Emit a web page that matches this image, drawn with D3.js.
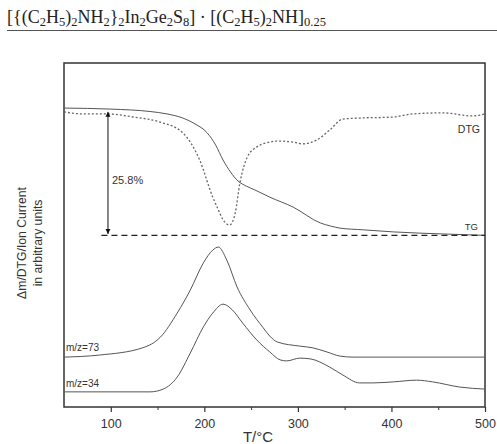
<!DOCTYPE html>
<html><head><meta charset="utf-8">
<script src="https://cdn.jsdelivr.net/npm/d3@7"></script>
<style>body{margin:0;background:#fff}svg{display:block}</style>
</head><body>
<svg id="c" width="497" height="444"></svg>
<script>
// Data (temperature °C, signal in arbitrary units)
const tgT  = [50,100,142,160,177,190,203,212,220,228,236,245,254,270,295,324,335,345,370,402,455,500];
const tgV  = [86.9,86.6,85.9,85.2,84.0,82.3,79.7,76.2,71.8,68.3,65.7,64.2,63.1,61.0,58.1,53.5,52.6,52.0,51.5,50.9,50.3,49.9];
const dtgT = [50,70,96,124,153,177,195,209,215,220,224,227,230,233,238,246,256,270,278,295,305,320,334,348,366,402,423,455,487,500];
const dtgV = [85.8,85.2,85.2,84.3,82.8,79.7,71.8,61.0,57.3,54.4,53.2,52.9,53.8,56.4,65.1,72.7,75.6,77.0,77.3,77.0,76.5,77.6,80.5,83.7,84.0,84.3,85.2,85.5,84.6,85.2];
const m73T = [50,88,134,153,171,185,199,209,215,224,235,249,263,270,278,302,316,331,345,359,500];
const m73V = [14.5,15.1,17.2,20.3,27.3,34.0,41.9,45.6,46.5,42.7,34.9,28.2,23.0,20.6,18.9,17.7,17.2,16.0,14.8,14.5,14.5];
const m34T = [50,142,156,171,185,199,209,220,230,241,256,270,281,288,302,313,334,348,366,380,402,427,444,473,500];
const m34V = [4.4,4.4,5.2,8.7,15.7,23.3,27.3,29.9,28.2,24.4,19.5,16.0,13.7,13.4,14.2,14.0,11.6,9.3,7.0,7.0,7.3,7.8,7.3,5.8,5.2];
const tgFinal = 49.9;
const arrowT = 97, arrowTop = 85.8, arrowBottom = 50.3;
const massLoss = "25.8%";
const xTicks = [100,200,300,400,500];
const xMinor = [150,250,350,450];
const xLabel = "T/°C";
const yLabel = ["Δm/DTG/Ion Current","in arbitrary units"];

const svg = d3.select("#c");
const L=64, R=485, T=63, B=407;
const x = d3.scaleLinear().domain([50,500]).range([L,R]);
const y = d3.scaleLinear().domain([0,100]).range([B,T]);
const line = d3.line().x(d=>x(d[0])).y(d=>y(d[1])).curve(d3.curveMonotoneX);
const zip = (a,b)=>a.map((v,i)=>[v,b[i]]);
const SANS = "Liberation Sans, Arial, sans-serif";

// title
const title = svg.append("text").attr("x",7).attr("y",22.5)
  .attr("font-family","Liberation Serif, Times New Roman, serif").attr("font-size",18).attr("fill","#222");
const parts = [["[{(C"],["2",1],["H"],["5",1],[")"],["2",1],["NH"],["2",1],["}"],["2",1],["In"],["2",1],["Ge"],["2",1],["S"],["8",1],["] · [(C"],["2",1],["H"],["5",1],[")"],["2",1],["NH]"],["0.25",1]];
parts.forEach((p,i)=>{
  const t = title.append("tspan").text(p[0]);
  const sub = p[1], prevSub = i>0 && parts[i-1][1];
  let dy = 0;
  if(sub && !prevSub) dy = 3.5;
  if(!sub && prevSub) dy = -3.5;
  t.attr("dy",dy);
  if(sub) t.attr("font-size",12.5);
});
svg.append("line").attr("x1",7).attr("x2",497).attr("y1",30.5).attr("y2",30.5).attr("stroke","#555").attr("stroke-width",1.2);

// frame
svg.append("rect").attr("x",L).attr("y",T).attr("width",R-L).attr("height",B-T)
  .attr("fill","none").attr("stroke","#333").attr("stroke-width",1.5);

// x axis
const ax = svg.append("g").attr("transform",`translate(0,${B})`)
  .call(d3.axisBottom(x).tickValues(xTicks).tickSize(5).tickPadding(7).tickFormat(d3.format("d")));
ax.select(".domain").remove();
ax.selectAll("line").attr("stroke","#333").attr("stroke-width",1.2);
ax.selectAll("text").attr("font-family",SANS).attr("font-size",12.5).attr("fill","#333");
svg.append("g").attr("transform",`translate(0,${B})`)
  .call(d3.axisBottom(x).tickValues(xMinor).tickSize(3).tickFormat(""))
  .call(g=>g.select(".domain").remove())
  .selectAll("line").attr("stroke","#333");

svg.append("text").attr("x",258).attr("y",442).attr("text-anchor","middle")
  .attr("font-family",SANS).attr("font-size",15).attr("fill","#333").text(xLabel);

// y label
yLabel.forEach((s,i)=>{
  svg.append("text").attr("transform",`translate(${26+i*16},243) rotate(-90)`).attr("text-anchor","middle")
    .attr("font-family",SANS).attr("font-size",12.2).attr("fill","#333").text(s);
});

// curves
svg.append("path").datum(zip(tgT,tgV)).attr("d",line).attr("fill","none").attr("stroke","#555").attr("stroke-width",1);
svg.append("path").datum(zip(dtgT,dtgV)).attr("d",line).attr("fill","none").attr("stroke","#666").attr("stroke-width",1.3).attr("stroke-dasharray","2,2");
svg.append("path").datum(zip(m73T,m73V)).attr("d",line).attr("fill","none").attr("stroke","#555").attr("stroke-width",1);
svg.append("path").datum(zip(m34T,m34V)).attr("d",line).attr("fill","none").attr("stroke","#555").attr("stroke-width",1);

// dashed baseline
svg.append("line").attr("x1",x(90)).attr("x2",x(500)).attr("y1",y(tgFinal)).attr("y2",y(tgFinal))
  .attr("stroke","#222").attr("stroke-width",1.2).attr("stroke-dasharray","6,4");

// arrow
const defs = svg.append("defs");
defs.append("marker").attr("id","ah").attr("viewBox","0 0 10 10").attr("refX",10).attr("refY",5)
  .attr("markerWidth",5).attr("markerHeight",7).attr("orient","auto-start-reverse")
  .append("path").attr("d","M0,0 L10,5 L0,10 Z").attr("fill","#111");
svg.append("line").attr("x1",x(arrowT)).attr("x2",x(arrowT)).attr("y1",y(arrowTop)).attr("y2",y(arrowBottom))
  .attr("stroke","#111").attr("stroke-width",1).attr("marker-start","url(#ah)").attr("marker-end","url(#ah)");
svg.append("text").attr("x",x(arrowT)+4).attr("y",184).attr("font-family",SANS)
  .attr("font-size",11).attr("fill","#333").text(massLoss);

// labels
const lab = (tx,ty,s,anchor,fs)=>svg.append("text").attr("x",tx).attr("y",ty).attr("text-anchor",anchor)
  .attr("font-family",SANS).attr("font-size",fs).attr("fill","#333").text(s);
lab(480,133,"DTG","end",10.5);
lab(478,229.5,"TG","end",9.5);
lab(66,351,"m/z=73","start",10);
lab(66,387,"m/z=34","start",10);
</script>
</body></html>
